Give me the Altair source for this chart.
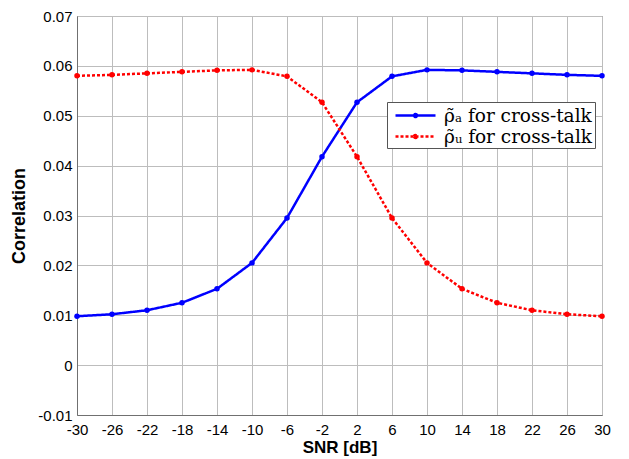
import altair as alt
import pandas as pd

snr = [-30, -26, -22, -18, -14, -10, -6, -2, 2, 6, 10, 14, 18, 22, 26, 30]
rho_a = [0.0098, 0.0102, 0.0110, 0.0125, 0.0153, 0.0205, 0.0295, 0.0418,
         0.0527, 0.0579, 0.0592, 0.0591, 0.0588, 0.0585, 0.0582, 0.0580]
rho_u = [0.0580, 0.0582, 0.0585, 0.0588, 0.0591, 0.0592, 0.0579, 0.0527,
         0.0418, 0.0295, 0.0205, 0.0153, 0.0125, 0.0110, 0.0102, 0.0098]
series_names = ["\u03c1\u0303\u2090 for cross-talk", "\u03c1\u0303\u1d64 for cross-talk"]
x_ticks = [-30, -26, -22, -18, -14, -10, -6, -2, 2, 6, 10, 14, 18, 22, 26, 30]
y_ticks = [-0.01, 0, 0.01, 0.02, 0.03, 0.04, 0.05, 0.06, 0.07]

rows = []
for x, a, u in zip(snr, rho_a, rho_u):
    rows.append({"snr": x, "corr": a, "series": series_names[0]})
    rows.append({"snr": x, "corr": u, "series": series_names[1]})
df = pd.DataFrame(rows)

legend_path = ("M-2,0H2M-0.15,0A0.15,0.15,0,1,1,0.15,0A0.15,0.15,0,1,1,-0.15,0")
leg = alt.Legend(title=None, orient="none", legendX=310, legendY=86,
                 fillColor="white", strokeColor="#555555", padding=2,
                 labelFont="DejaVu Serif", labelFontSize=18.5, labelColor="black",
                 symbolType=legend_path, symbolSize=400, symbolStrokeWidth=2.5,
                 symbolOffset=15, labelOffset=17, rowPadding=0, labelLimit=300)
color_scale = alt.Scale(domain=series_names, range=["#0000ff", "#ff0000"])
color = alt.Color("series:N", scale=color_scale, legend=leg)
dash = alt.StrokeDash("series:N", scale=alt.Scale(domain=series_names, range=[[1, 0], [3, 2]]),
                      legend=leg)

xenc = alt.X("snr:Q", title="SNR [dB]", scale=alt.Scale(domain=[-30, 30], nice=False),
             axis=alt.Axis(values=x_ticks, labelOverlap=False, labelFlush=False,
                           labelExpr="replace(format(datum.value, 'd'), '\u2212', '-')"))
yenc = alt.Y("corr:Q", title="Correlation", scale=alt.Scale(domain=[-0.01, 0.07], nice=False, zero=False),
             axis=alt.Axis(values=y_ticks, labelOverlap=False, labelFlush=False,
                           labelExpr="replace(format(datum.value, '.2~f'), '\u2212', '-')"))

lines = alt.Chart(df).mark_line(strokeWidth=2.5).encode(x=xenc, y=yenc, color=color, strokeDash=dash)
points = alt.Chart(df).mark_circle(size=30, opacity=1).encode(
    x=xenc, y=yenc, color=alt.Color("series:N", scale=color_scale, legend=None))

chart = (lines + points).properties(
    width=525, height=399,
    autosize=alt.AutoSizeParams(type="none"),
    padding={"left": 69, "top": 8, "right": 19, "bottom": 44},
).configure_view(stroke="#707070", strokeWidth=1).configure_axis(
    labelFont="Liberation Sans", labelFontSize=15, labelColor="black", labelOverlap=False,
    labelFlush=False,
    titleFont="Liberation Sans", titleFontWeight="bold", titleColor="black",
    gridColor="#bdbdbd", gridWidth=1, domainColor="#707070", tickSize=0,
).configure_axisX(labelPadding=7, titlePadding=2, titleFontSize=17).configure_axisY(
    labelPadding=5, titlePadding=9, titleFontSize=18)

chart.save("out.html", embed_options={"renderer": "svg", "actions": False})
